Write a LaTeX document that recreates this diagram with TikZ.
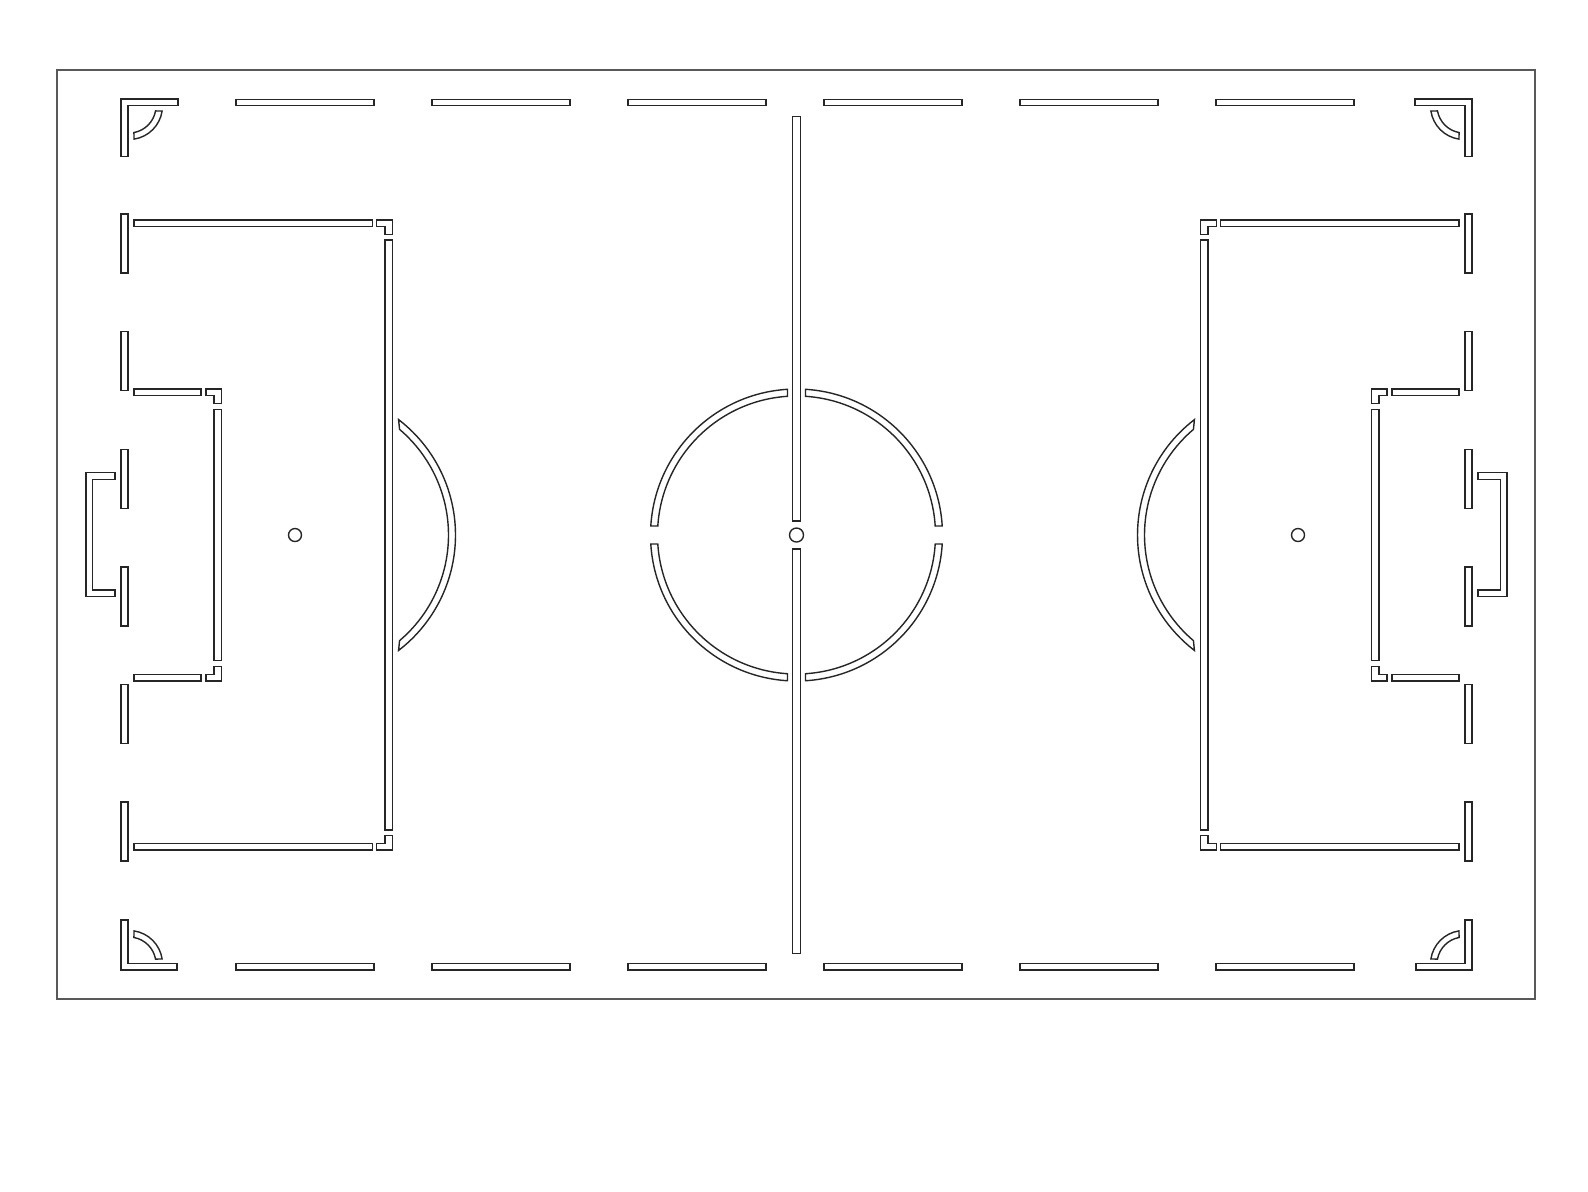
\documentclass[tikz,border=0pt]{standalone}
\usetikzlibrary{calc}
\tikzset{
  strip/.style={draw=black!85, line width=0.7pt, fill=white},
  framebox/.style={draw=black!65, line width=0.9pt},
}
\newcommand{\lefthalfpitch}{%
  % corner L pieces
  \draw[strip] (121,99)--(178,99)--(178,105.7)--(128,105.7)--(128,156.5)--(121,156.5)--cycle;
  \draw[strip] (121,970)--(177,970)--(177,963.5)--(128,963.5)--(128,920)--(121,920)--cycle;
  % corner arcs
  \draw[strip] ($(129,106)+(8.7:33.5)$) arc[start angle=8.7,end angle=81.3,radius=33.5]
     -- ($(129,106)+(79.5:27)$) arc[start angle=79.5,end angle=10.5,radius=27] -- cycle;
  \draw[strip] ($(129,964)+(-8.7:33.5)$) arc[start angle=-8.7,end angle=-81.3,radius=33.5]
     -- ($(129,964)+(-79.5:27)$) arc[start angle=-79.5,end angle=-10.5,radius=27] -- cycle;
  % side dashes
  \foreach \ya/\yb in {214/273,331.6/390.6,449.2/508.2,566.8/625.8,684.4/743.4,802/861}
    \draw[strip] (121,\ya) rectangle (128,\yb);
  % penalty box
  \draw[strip] (134,220) rectangle (372.7,226.7);
  \draw[strip] (134,843.3) rectangle (372.7,850);
  \draw[strip] (385,240) rectangle (392.7,830);
  \draw[strip] (376.7,220)--(392.7,220)--(392.7,234.7)--(385,234.7)--(385,226.7)--(376.7,226.7)--cycle;
  \draw[strip] (376.7,850)--(392.7,850)--(392.7,835.3)--(385,835.3)--(385,843.3)--(376.7,843.3)--cycle;
  % goal area
  \draw[strip] (134,389) rectangle (201,395.3);
  \draw[strip] (134,674.7) rectangle (201,681);
  \draw[strip] (214,409.3) rectangle (221.7,660.7);
  \draw[strip] (206,389)--(221.7,389)--(221.7,403.3)--(214,403.3)--(214,395.3)--(206,395.3)--cycle;
  \draw[strip] (206,681)--(221.7,681)--(221.7,666.7)--(214,666.7)--(214,674.7)--(206,674.7)--cycle;
  % goal
  \draw[strip] (115,472.7)--(86,472.7)--(86,596.7)--(115,596.7)--(115,590)--(92.7,590)--(92.7,479.3)--(115,479.3)--cycle;
  % penalty spot
  \draw[strip] (295,535) circle[radius=6.5];
  % penalty arc
  \draw[strip] ($(310,535)+(-52.5:145.5)$) arc[start angle=-52.5,end angle=52.5,radius=145.5]
     -- ($(310,535)+(49.7:138.5)$) arc[start angle=49.7,end angle=-49.7,radius=138.5] -- cycle;
}
\begin{document}
\begin{tikzpicture}[x=0.5pt,y=-0.5pt]
\useasboundingbox (0,0) rectangle (1588,1191);
\fill[white] (0,0) rectangle (1588,1191);
\draw[framebox] (57,70) rectangle (1535,999);
% halves
\lefthalfpitch
\begin{scope}[shift={(1593,0)},xscale=-1]
\lefthalfpitch
\end{scope}
% top and bottom dashes
\foreach \xa in {236,432,628,824,1020,1216}{
  \draw[strip] (\xa,99.3) rectangle ({\xa+138},105.7);
  \draw[strip] (\xa,963.7) rectangle ({\xa+138},970);
}
% centre line
\draw[strip] (792.3,116.7) rectangle (800.7,521);
\draw[strip] (792.3,549) rectangle (800.7,953.3);
% centre circle, four quarters
\foreach \q in {0,90,180,270}{
  \draw[strip] ($(796.5,535)+(\q+3.53:146)$) arc[start angle=\q+3.53,end angle=\q+86.47,radius=146]
    -- ($(796.5,535)+(\q+86.3:139)$) arc[start angle=\q+86.3,end angle=\q+3.7,radius=139] -- cycle;
}
\draw[strip] (796.5,535) circle[radius=7];
\end{tikzpicture}
\end{document}
